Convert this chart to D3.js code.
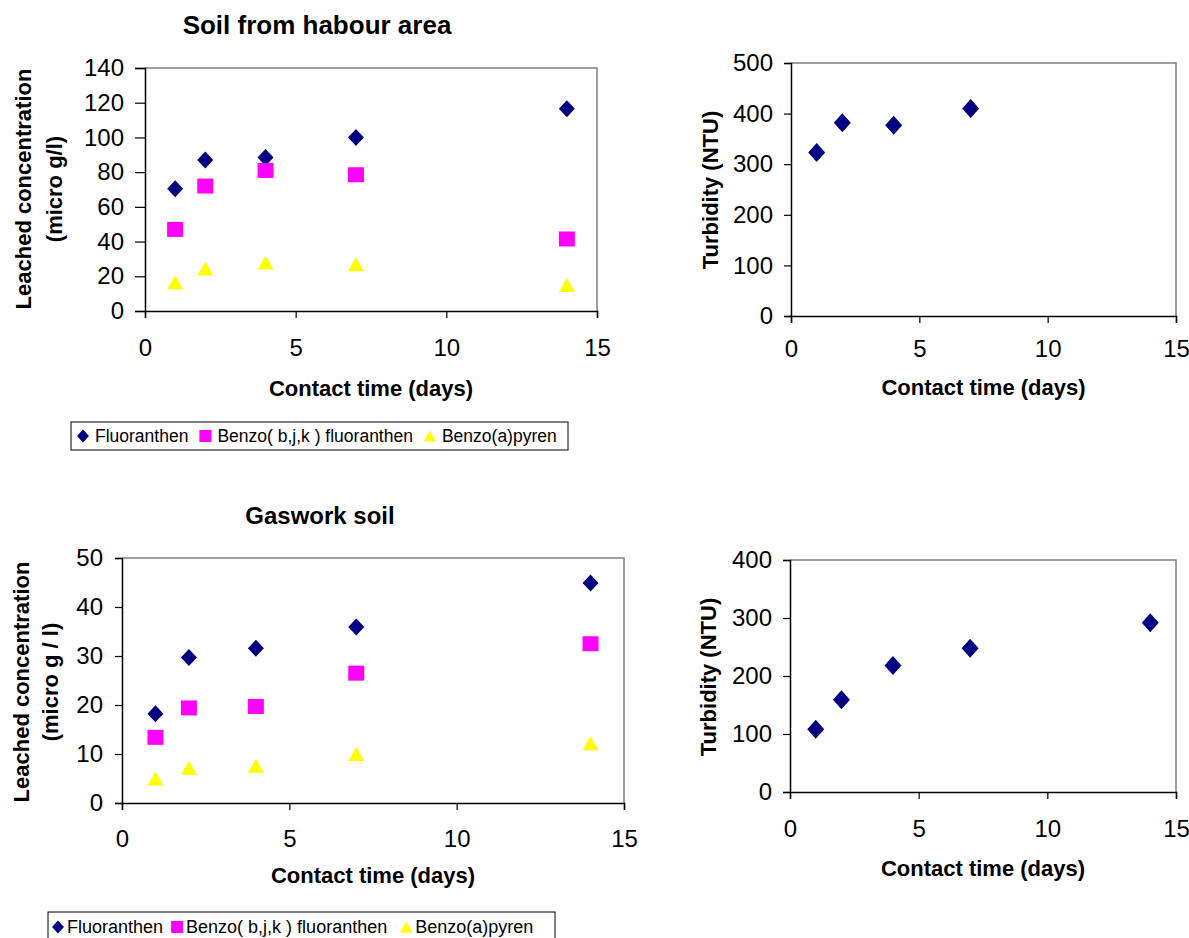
<!DOCTYPE html>
<html>
<head>
<meta charset="utf-8">
<script src="https://cdn.jsdelivr.net/npm/d3@7"></script>
<style>
  body { margin: 0; background: #fff; }
  svg text { font-family: 'Liberation Sans', Arial, sans-serif; fill: #000; }
</style>
</head>
<body>
<div id="chart"></div>
<script>
// data
const days = [1, 2, 4, 7, 14]
const harbourFluoranthen = [70.5, 87, 88.5, 100, 116.5]
const harbourBenzoBJK = [47, 72, 81, 78.5, 41.5]
const harbourBenzoAPyren = [16.5, 24.5, 28, 27, 15]
const harbourTurbidityDays = [1, 2, 4, 7]
const harbourTurbidity = [323, 382, 377, 410]

const gasworkFluoranthen = [18.2, 29.7, 31.6, 35.9, 44.9]
const gasworkBenzoBJK = [13.4, 19.4, 19.7, 26.5, 32.5]
const gasworkBenzoAPyren = [5, 7.2, 7.6, 10, 12.2]
const gasworkTurbidity = [108, 159, 218, 248, 292]

const seriesNames = ['Fluoranthen', 'Benzo( b,j,k ) fluoranthen', 'Benzo(a)pyren']
const seriesColors = ['#000080', '#FF00FF', '#FFFF00']
const seriesShapes = ['diamond', 'square', 'triangle']
const xTicks = [0, 5, 10, 15]

const svg = d3
  .select('#chart')
  .append('svg')
  .attr('width', 1189)
  .attr('height', 938)

// w = width of the marker box, h = its height
function shapePath (shape, w, h) {
  if (shape === 'diamond') {
    return `M0,${-h / 2}L${w / 2},0L0,${h / 2}L${-w / 2},0Z`
  } else if (shape === 'square') {
    return `M${-w / 2},${-h / 2}h${w}v${h}h${-w}Z`
  } else {
    return `M0,${-h / 2}L${w / 2},${h / 2}L${-w / 2},${h / 2}Z`
  }
}

function panel (p) {
  const g = svg.append('g')
  const x = d3.scaleLinear().domain([0, 15]).range([p.left, p.right])
  const y = d3.scaleLinear().domain([0, p.yMax]).range([p.bottom, p.top])

  // top and right frame in grey
  g.append('path')
    .attr('d', `M${p.left},${p.top}H${p.right}V${p.bottom}`)
    .attr('fill', 'none')
    .attr('stroke', '#808080')
    .attr('stroke-width', 1.5)

  const yAxis = g.append('g')
    .attr('transform', `translate(${p.left},0)`)
    .call(d3.axisLeft(y).tickValues(d3.range(0, p.yMax + 1, p.yStep)).tickSize(p.yTick).tickPadding(p.yPad))
  const xAxis = g.append('g')
    .attr('transform', `translate(0,${p.bottom})`)
    .call(d3.axisBottom(x).tickValues(xTicks).tickSize(7).tickPadding(p.xPad))

  ;[yAxis, xAxis].forEach(a => {
    a.select('.domain').attr('stroke', '#000').attr('stroke-width', 1.5)
    a.selectAll('.tick line').attr('stroke', '#000').attr('stroke-width', 1.2)
    a.selectAll('.tick text')
      .attr('font-size', 24)
      .style('font-family', "'Liberation Sans', Arial, sans-serif")
  })

  if (p.title) {
    g.append('text')
      .attr('x', p.titleX)
      .attr('y', p.titleY)
      .attr('text-anchor', 'middle')
      .attr('font-size', p.titleFont)
      .attr('font-weight', 'bold')
      .text(p.title)
  }

  g.append('text')
    .attr('x', (p.left + p.right) / 2)
    .attr('y', p.xLabelY)
    .attr('text-anchor', 'middle')
    .attr('font-size', 22)
    .attr('font-weight', 'bold')
    .text('Contact time (days)')

  p.yLabel.forEach((line, i) => {
    g.append('text')
      .attr('transform', `translate(${p.yLabelX[i]},${p.yLabelY})rotate(-90)`)
      .attr('text-anchor', 'middle')
      .attr('font-size', 22)
      .attr('font-weight', 'bold')
      .text(line)
  })

  p.series.forEach(s => {
    g.selectAll(null)
      .data(s.values.map((v, i) => [s.days[i], v]))
      .enter()
      .append('path')
      .attr('d', shapePath(s.shape, s.w, s.h))
      .attr('transform', d => `translate(${x(d[0])},${y(d[1])})`)
      .attr('fill', s.color)
  })
}

function legend (l) {
  const g = svg.append('g')
  g.append('rect')
    .attr('x', l.x)
    .attr('y', l.y)
    .attr('width', l.width)
    .attr('height', l.height)
    .attr('fill', '#fff')
    .attr('stroke', '#000')
    .attr('stroke-width', 1)
  let cx = l.x + l.pad
  const cy = l.y + l.height / 2
  seriesNames.forEach((name, i) => {
    g.append('path')
      .attr('d', shapePath(seriesShapes[i], 12, i === 2 ? 11 : (i === 0 ? 13 : 12)))
      .attr('transform', `translate(${cx + 6},${cy})`)
      .attr('fill', seriesColors[i])
    const t = g.append('text')
      .attr('x', cx + 12 + l.symGap)
      .attr('y', cy + l.font * 0.36)
      .attr('font-size', l.font)
      .text(name)
    cx += 12 + l.symGap + t.node().getComputedTextLength() + (l.gaps[i] || 0)
  })
}

function concSeries (vals) {
  return vals.map((v, i) => ({
    days: days,
    values: v,
    color: seriesColors[i],
    shape: seriesShapes[i],
    w: 16,
    h: i === 0 ? 17 : (i === 1 ? 15 : 14)
  }))
}

panel({
  left: 145, right: 597, top: 68, bottom: 311,
  yMax: 140, yStep: 20, xPad: 21, yTick: 10, yPad: 11,
  title: 'Soil from habour area', titleX: 317, titleY: 34, titleFont: 26,
  xLabelY: 396,
  yLabel: ['Leached concentration', '(micro g/l)'], yLabelX: [31, 62], yLabelY: 189,
  series: concSeries([harbourFluoranthen, harbourBenzoBJK, harbourBenzoAPyren])
})

panel({
  left: 791, right: 1176, top: 63, bottom: 316,
  yMax: 500, yStep: 100, xPad: 17, yTick: 7, yPad: 11,
  xLabelY: 395,
  yLabel: ['Turbidity (NTU)'], yLabelX: [718], yLabelY: 190,
  series: [{ days: harbourTurbidityDays, values: harbourTurbidity, color: seriesColors[0], shape: 'diamond', w: 17, h: 19 }]
})

legend({ x: 71, y: 422, width: 497, height: 28, pad: 6, symGap: 6, gaps: [11, 11], font: 17.5 })

panel({
  left: 122, right: 624, top: 558, bottom: 803,
  yMax: 50, yStep: 10, xPad: 20, yTick: 7, yPad: 12,
  title: 'Gaswork soil', titleX: 320, titleY: 524, titleFont: 24,
  xLabelY: 883,
  yLabel: ['Leached concentration', '(micro g / l)'], yLabelX: [29, 58], yLabelY: 682,
  series: concSeries([gasworkFluoranthen, gasworkBenzoBJK, gasworkBenzoAPyren])
})

panel({
  left: 790, right: 1176, top: 560, bottom: 792,
  yMax: 400, yStep: 100, xPad: 21, yTick: 7, yPad: 11,
  xLabelY: 876,
  yLabel: ['Turbidity (NTU)'], yLabelX: [716], yLabelY: 677,
  series: [{ days: days, values: gasworkTurbidity, color: seriesColors[0], shape: 'diamond', w: 17, h: 19 }]
})

legend({ x: 48, y: 912, width: 507, height: 30, pad: 4, symGap: 3, gaps: [8, 13], font: 18 })
</script>
</body>
</html>
